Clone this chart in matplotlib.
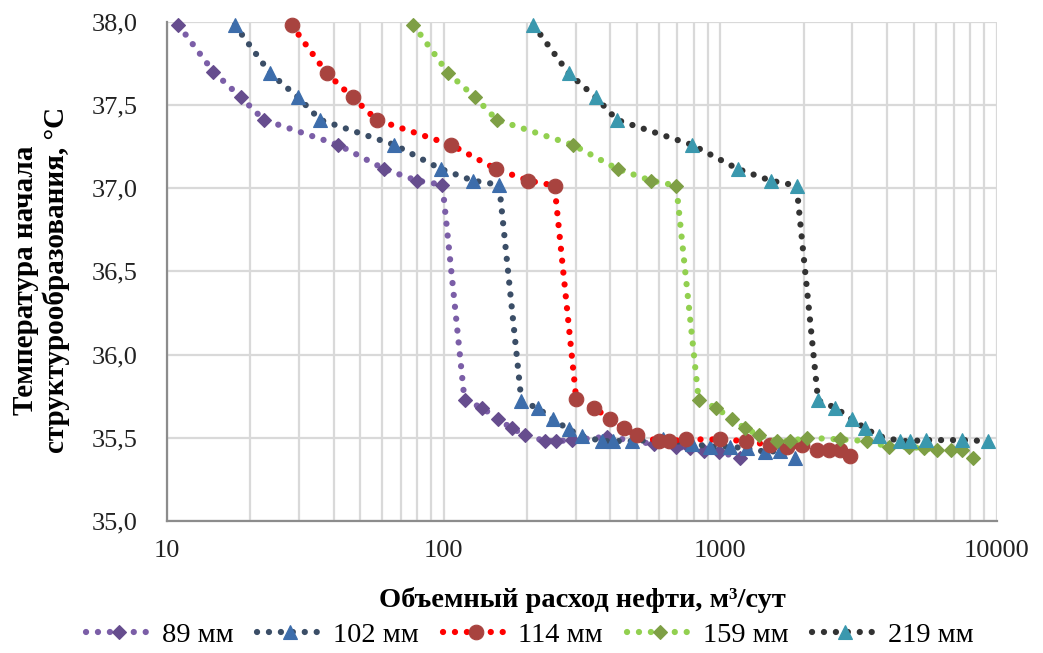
import matplotlib
matplotlib.use('Agg')
import matplotlib.pyplot as plt
from matplotlib.ticker import FixedLocator, LogLocator, NullFormatter, FuncFormatter

plt.rcParams['font.family'] = ['Liberation Serif', 'DejaVu Serif']

# Q, m3/day  and  T, degC  for each pipe diameter
q89 = [11.0, 14.7, 18.5, 22.4, 41.6, 61, 80, 99,
       119, 138, 157, 177, 197, 233, 255, 292, 389, 574, 693, 779, 870, 986, 1174]
t89 = [37.98, 37.70, 37.545, 37.41, 37.26, 37.115, 37.045, 37.02,
       35.724, 35.68, 35.61, 35.556, 35.516, 35.48, 35.48, 35.486, 35.506, 35.462, 35.446, 35.436, 35.42, 35.416, 35.38]

q102 = [17.6, 23.6, 29.8, 35.8, 66.4, 97.7, 127.5, 158.7,
        191, 219, 249, 283, 316, 373, 409, 479, 623, 790, 920, 1087, 1249, 1454, 1648, 1867]
t102 = [37.98, 37.69, 37.545, 37.41, 37.26, 37.115, 37.045, 37.02,
        35.72, 35.677, 35.61, 35.55, 35.51, 35.48, 35.48, 35.48, 35.49, 35.465, 35.446, 35.446, 35.436, 35.416, 35.42, 35.38]

q114 = [28.2, 37.8, 46.9, 57.3, 106.4, 154.5, 202.6, 251.6,
        301.5, 350, 400, 447, 500, 598, 650, 753, 994, 1239, 1508, 1743, 1975, 2237, 2465, 2716, 2952]
t114 = [37.98, 37.69, 37.545, 37.41, 37.26, 37.115, 37.045, 37.015,
        35.73, 35.68, 35.61, 35.556, 35.516, 35.48, 35.48, 35.49, 35.49, 35.48, 35.456, 35.446, 35.456, 35.426, 35.426, 35.426, 35.39]

q159 = [77.8, 104, 130, 155.7, 293, 425, 561.6, 693,
        835, 967, 1102, 1231, 1376, 1603, 1781, 2059, 2716, 3393, 4062, 4800, 5438, 6077, 6792, 7482, 8204]
t159 = [37.98, 37.69, 37.545, 37.41, 37.26, 37.115, 37.045, 37.015,
        35.726, 35.68, 35.61, 35.556, 35.516, 35.48, 35.48, 35.50, 35.49, 35.48, 35.446, 35.446, 35.436, 35.426, 35.426, 35.426, 35.38]

q219 = [211, 283, 355, 423, 790, 1157, 1520, 1886,
        2256, 2606, 2993, 3344, 3737, 4478, 4866, 5559, 7480, 9265]
t219 = [37.98, 37.69, 37.545, 37.41, 37.26, 37.115, 37.045, 37.015,
        35.724, 35.68, 35.61, 35.556, 35.51, 35.48, 35.48, 35.486, 35.486, 35.48]

series = [
    ('89 мм', q89, t89, '#7b5ea7', '#664d8e', 'D', 7.5),
    ('102 мм', q102, t102, '#3b4e67', '#3d6dab', '^', 10),
    ('114 мм', q114, t114, '#ff0000', '#a8433f', 'o', 10.5),
    ('159 мм', q159, t159, '#92d050', '#7e9f45', 'D', 7.5),
    ('219 мм', q219, t219, '#333333', '#3a98ae', '^', 10),
]

fig = plt.figure(figsize=(10.43, 6.53), dpi=100)
ax = fig.add_axes([0.1601, 0.2022, 0.7958, 0.7646])

for name, q, t, lc, mc, mk, ms in series:
    ax.plot(q, t, color=lc, lw=4.5, linestyle=(0, (0.01, 1.9)),
            dash_capstyle='round', marker=mk, markersize=ms,
            markerfacecolor=mc, markeredgecolor=mc, markeredgewidth=0.8,
            label=name, clip_on=False)

ax.set_xscale('log')
ax.set_xlim(10, 10000)
ax.set_ylim(35.0, 38.0)
ax.xaxis.set_major_locator(FixedLocator([10, 100, 1000, 10000]))
ax.xaxis.set_minor_locator(LogLocator(base=10, subs=range(2, 10)))
ax.xaxis.set_minor_formatter(NullFormatter())
ax.xaxis.set_major_formatter(FuncFormatter(lambda v, p: '%d' % v))
ax.set_yticks([35.0, 35.5, 36.0, 36.5, 37.0, 37.5, 38.0])
ax.yaxis.set_major_formatter(FuncFormatter(lambda v, p: ('%.1f' % v).replace('.', ',')))

ax.grid(True, which='both', axis='x', color='#d9d9d9', lw=1.6)
ax.grid(True, which='major', axis='y', color='#d9d9d9', lw=1.6)
ax.set_axisbelow(True)
ax.tick_params(which='both', length=0, labelsize=19, colors='#222222')
ax.tick_params(axis='x', pad=14)
ax.tick_params(axis='y', pad=21)

for s in ['top', 'right']:
    ax.spines[s].set_visible(False)
for s in ['left', 'bottom']:
    ax.spines[s].set_color('#8c8c8c')
    ax.spines[s].set_linewidth(1.6)

fig.text(0.5585, 1 - 600 / 653, 'Объемный расход нефти, м³/сут',
         ha='center', va='center', fontsize=20.5, fontweight='bold')
fig.text(41 / 1043, 1 - 280 / 653, 'Температура начала\nструктурообразования, °С',
         ha='center', va='center', rotation=90, fontsize=21, fontweight='bold',
         multialignment='center', linespacing=1.15)

fig.legend(loc='center', bbox_to_anchor=(0.508, 1 - 635 / 653), ncol=5,
           frameon=False, fontsize=20.5, numpoints=1, handlelength=2.3,
           handletextpad=0.35, columnspacing=0.85)

fig.savefig('out.png', dpi=100)
